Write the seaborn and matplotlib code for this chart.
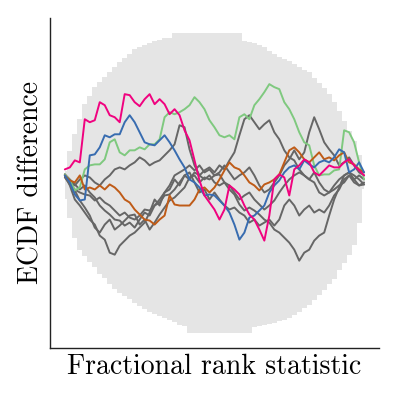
import numpy as np
import pandas as pd
import matplotlib
matplotlib.use("Agg")
import matplotlib.pyplot as plt
import seaborn as sns

# ECDF difference values (units of 1e-3), 61 evaluation points
pink = [13, 15, 22, 20, 63, 60, 62, 80, 77, 67, 65, 60, 88, 87, 80, 76, 83, 88, 78, 83,
        78, 68, 73, 67, 52, 42, 22, 2, -13, -20, -27, -37, -27, -3, -7, -12, -23, -32, -37, -47,
        -58, -33, 3, 8, 5, -13, 13, 17, 23, 20, 10, 7, 12, 17, 15, 15, 20, 23, 17, 12, 7]
blue = [7, 0, -12, -18, -17, 27, 28, 35, 47, 45, 48, 48, 60, 67, 60, 50, 40, 38, 37, 42,
        47, 40, 32, 23, 15, 3, 0, -5, -13, -12, -13, -18, -23, -30, -42, -57, -50, -35, -33, -28,
        -23, -10, -3, 2, 10, 15, 17, 13, 22, 18, 15, 20, 22, 20, 25, 33, 30, 10, 13, 20, 10]
green = [8, 2, -8, -5, 13, 17, 18, 18, 23, 40, 43, 30, 27, 32, 32, 35, 33, 38, 38, 43,
         65, 70, 68, 70, 73, 77, 85, 80, 73, 62, 55, 47, 45, 47, 43, 65, 68, 63, 77, 83,
         90, 98, 95, 93, 80, 73, 63, 50, 40, 37, 17, 7, 8, 8, 12, 13, 52, 50, 40, 20, 3]
orange = [7, 2, 0, 7, -7, -5, -7, -3, -7, -2, -5, -10, -17, -20, -27, -32, -37, -38, -42, -37,
          -33, -13, -22, -23, -23, -23, -17, -7, -5, -10, -5, 3, 12, 20, 15, 13, 7, 0, -3, -8,
          -2, 0, 3, 8, 20, 32, 35, 30, 23, 20, 25, 30, 23, 25, 22, 27, 30, 20, 18, 13, 10]
gray_a = [7, -3, -17, -23, -30, -37, -42, -53, -57, -70, -72, -63, -58, -53, -50, -45, -40, -30, -17, -23,
          -10, -7, 3, -3, 7, 10, 0, -10, -7, -17, -10, -17, -23, -27, -25, -30, -33, -40, -37, -43,
          -40, -37, -43, -37, -23, -17, -23, -33, -27, -23, -30, -27, -30, -23, -13, -7, 3, 7, 0, -3, -2]
gray_b = [8, 0, -8, -18, -25, -33, -45, -50, -42, -37, -47, -43, -38, -33, -32, -42, -37, -47, -40, -32,
          -25, -18, -15, -10, -5, 5, 7, 0, 5, 3, 7, 8, 0, -7, -12, -22, -28, -25, -28, -32,
          -37, -40, -47, -50, -55, -60, -67, -78, -70, -67, -58, -53, -50, -33, -17, -5, 7, 10, 7, 3, -2]
gray_c = [7, 0, -3, 3, 7, 5, 0, -3, 3, 7, 13, 15, 13, 17, 20, 25, 22, 17, 20, 22,
          27, 32, 38, 57, 55, 33, 17, 7, 3, 7, 0, -3, 0, -3, -10, -17, -13, -10, -17, -22,
          -27, -23, -18, -10, -3, 3, 7, 10, 7, 3, 10, 0, -7, -10, -3, 3, 7, 10, 3, 7, 3]
gray_d = [5, -2, -7, -10, -12, -13, -18, -15, -20, -23, -28, -33, -30, -35, -37, -33, -27, -28, -23, -20,
          -13, -12, -7, 0, 7, 3, 10, 7, 12, 15, 10, 17, 13, 22, 30, 47, 63, 67, 60, 53,
          58, 62, 50, 43, 32, 25, 22, 13, 7, 3, 0, -10, -13, -10, -7, -3, 0, 7, 3, -3, 0]
gray_e = [8, 3, -2, -7, -3, -10, -15, -23, -28, -32, -37, -38, -43, -40, -45, -37, -30, -33, -23, -17,
          -10, -3, 7, 10, 13, 17, 12, 17, 10, 13, 7, 10, 17, 10, 3, 7, 10, 15, 7, -3,
          -10, -7, 0, 7, 17, 23, 32, 23, 30, 50, 65, 53, 40, 33, 27, 17, 20, 25, 17, 10, 7]

# simultaneous confidence band (units of 1e-3)
band_upper = [11, 31, 48, 63, 78, 86, 95, 100, 105, 110, 115, 120, 124, 128, 133, 135, 137, 139, 141, 142,
              144, 144, 149, 149, 149, 149, 149, 149, 149, 149, 149, 149, 149, 149, 149, 149, 141, 140, 139, 137,
              135, 131, 128, 125, 123, 121, 118, 115, 112, 110, 104, 99, 94, 88, 80, 71, 61, 51, 41, 27, 5]
band_lower = [-17, -35, -55, -67, -73, -79, -84, -91, -95, -101, -106, -110, -113, -116, -120, -123, -126, -129, -131, -133,
              -135, -137, -139, -142, -143, -150, -150, -150, -150, -150, -150, -150, -150, -150, -150, -150, -150, -150, -144, -143,
              -142, -141, -140, -138, -137, -135, -132, -129, -125, -122, -117, -112, -107, -101, -96, -87, -80, -72, -62, -40, -7]

rank = np.linspace(0, 1, len(pink))

lines = {"c5": gray_a, "c6": gray_b, "c7": gray_c, "c8": gray_d, "c9": gray_e,
         "c1": green, "c2": orange, "c3": blue, "c4": pink}
colors = {"c1": "#7fc97f", "c2": "#bf5b17", "c3": "#386cb0", "c4": "#f0027f",
          "c5": "#666666", "c6": "#666666", "c7": "#666666", "c8": "#666666", "c9": "#666666"}

df = pd.concat(
    [pd.DataFrame({"rank": rank, "diff": np.array(v) / 1000, "chain": k}) for k, v in lines.items()],
    ignore_index=True,
)

sns.set_style("white")
plt.rcParams["font.family"] = ["cmr10", "DejaVu Serif"]
plt.rcParams["axes.formatter.use_mathtext"] = True

fig = plt.figure(figsize=(3.99, 3.99), dpi=100)
ax = fig.add_axes([0.125, 0.128, 0.825, 0.827])

ax.fill_between(rank, np.array(band_lower) / 1000, np.array(band_upper) / 1000,
                step="mid", color="#e5e5e5", linewidth=0)

sns.lineplot(data=df, x="rank", y="diff", hue="chain", palette=colors,
             estimator=None, sort=False, linewidth=1.4, legend=False, ax=ax)

ax.margins(0.05)
ax.set_xticks([])
ax.set_yticks([])
ax.set_xlabel("Fractional rank statistic", fontsize=20, color="black")
ax.set_ylabel("ECDF difference", fontsize=20, color="black")
sns.despine(ax=ax)
for s in ("left", "bottom"):
    ax.spines[s].set_color("#222222")
    ax.spines[s].set_linewidth(1.0)

fig.savefig("out.png", dpi=100)
